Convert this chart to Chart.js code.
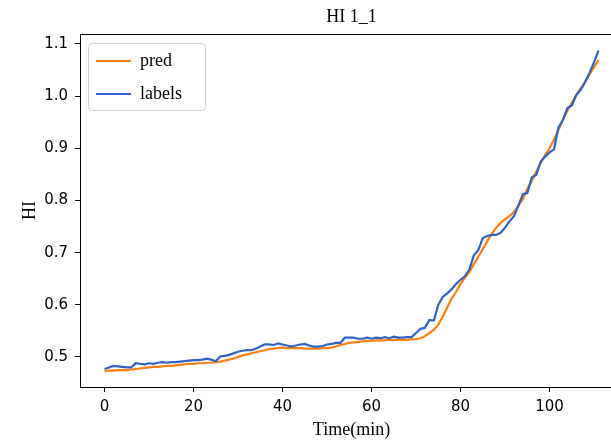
<!DOCTYPE html>
<html>
<head>
<meta charset="utf-8">
<script src="https://cdn.jsdelivr.net/npm/chart.js@4"></script>
<style>
  html, body { margin: 0; padding: 0; background: #fff; overflow: hidden; }
  #wrap { width: 611px; height: 441px; overflow: hidden; }
</style>
</head>
<body>
<div id="wrap"><canvas id="hiChart" width="625" height="441"></canvas></div>
<script>
// series, one value per minute (0..111)
const predValues = [
    0.473, 0.474, 0.474, 0.475, 0.475, 0.475, 0.476, 0.477, 0.478, 0.479,
    0.480, 0.481, 0.481, 0.482, 0.483, 0.483, 0.484, 0.485, 0.486, 0.487,
    0.487, 0.488, 0.488, 0.489, 0.489, 0.490, 0.491, 0.493, 0.495, 0.497,
    0.500, 0.503, 0.505, 0.507, 0.509, 0.511, 0.513, 0.515, 0.516, 0.517,
    0.518, 0.517, 0.517, 0.517, 0.517, 0.516, 0.516, 0.516, 0.516, 0.517,
    0.517, 0.518, 0.520, 0.523, 0.525, 0.527, 0.528, 0.529, 0.530, 0.531,
    0.531, 0.532, 0.532, 0.532, 0.533, 0.533, 0.533, 0.533, 0.533, 0.534,
    0.534, 0.536, 0.540, 0.546, 0.552, 0.562, 0.577, 0.595, 0.612, 0.625,
    0.640, 0.652, 0.663, 0.678, 0.692, 0.707, 0.722, 0.736, 0.748, 0.757,
    0.764, 0.770, 0.778, 0.790, 0.803, 0.822, 0.838, 0.855, 0.872, 0.887,
    0.900, 0.917, 0.935, 0.955, 0.972, 0.987, 1.002, 1.015, 1.028, 1.042,
    1.056, 1.069
];

const labelValues = [
    0.477, 0.480, 0.483, 0.482, 0.481, 0.480, 0.480, 0.488, 0.487, 0.486,
    0.488, 0.487, 0.489, 0.490, 0.489, 0.490, 0.490, 0.491, 0.492, 0.493,
    0.494, 0.494, 0.495, 0.497, 0.495, 0.492, 0.501, 0.502, 0.504, 0.507,
    0.510, 0.512, 0.513, 0.513, 0.516, 0.520, 0.524, 0.524, 0.523, 0.526,
    0.524, 0.522, 0.520, 0.522, 0.524, 0.525, 0.522, 0.520, 0.520, 0.521,
    0.524, 0.525, 0.527, 0.527, 0.537, 0.537, 0.537, 0.535, 0.535, 0.537,
    0.535, 0.537, 0.536, 0.538, 0.536, 0.539, 0.537, 0.537, 0.538, 0.538,
    0.546, 0.554, 0.556, 0.571, 0.570, 0.600, 0.615, 0.622, 0.630, 0.640,
    0.648, 0.655, 0.668, 0.695, 0.705, 0.728, 0.732, 0.734, 0.734, 0.738,
    0.748, 0.760, 0.770, 0.790, 0.812, 0.814, 0.844, 0.849, 0.874, 0.884,
    0.892, 0.898, 0.940, 0.954, 0.977, 0.982, 1.002, 1.012, 1.027, 1.045,
    1.065, 1.087
];

const seriesNames = ['pred', 'labels'];
const xTicks = [0, 20, 40, 60, 80, 100];
const yTicks = [0.5, 0.6, 0.7, 0.8, 0.9, 1.0, 1.1];

const serif = '"Liberation Serif", "Times New Roman", serif';
const sans = '"DejaVu Sans", sans-serif';

const toPoints = vals => vals.map((v, i) => ({ x: i, y: v }));

// frame (top/right spines) + title + legend box inside the plot
const extras = {
    id: 'extras',
    afterDraw(chart) {
        const { ctx, chartArea: a } = chart;
        ctx.save();
        ctx.strokeStyle = '#000';
        ctx.lineWidth = 1;
        ctx.strokeRect(a.left + 0.5, a.top + 0.5, a.right - a.left, a.bottom - a.top);

        ctx.fillStyle = '#000';
        ctx.font = '18px ' + serif;
        ctx.textAlign = 'center';
        ctx.textBaseline = 'middle';
        ctx.fillText('HI 1_1', (a.left + a.right) / 2, 17);

        // legend
        const bx = 88, by = 43, bw = 117, bh = 67;
        ctx.beginPath();
        ctx.roundRect(bx + 0.5, by + 0.5, bw, bh, 4);
        ctx.fillStyle = 'rgba(255,255,255,0.85)';
        ctx.fill();
        ctx.strokeStyle = '#d0d0d0';
        ctx.stroke();

        ctx.font = '18px ' + serif;
        ctx.textAlign = 'left';
        chart.data.datasets.slice().sort((p, q) => seriesNames.indexOf(p.label) - seriesNames.indexOf(q.label))
            .forEach((ds, i) => {
                const y = 61 + i * 33;
                ctx.strokeStyle = ds.borderColor;
                ctx.lineWidth = 2;
                ctx.beginPath();
                ctx.moveTo(96, y);
                ctx.lineTo(131, y);
                ctx.stroke();
                ctx.fillStyle = '#000';
                ctx.fillText(ds.label, 140, y);
            });
        ctx.restore();
    }
};

new Chart(document.getElementById('hiChart'), {
    type: 'line',
    data: {
        datasets: [{
            label: seriesNames[1],
            data: toPoints(labelValues),
            borderColor: '#2f62c2',
            borderWidth: 2.2,
            pointRadius: 0,
            tension: 0,
            fill: false
        }, {
            label: seriesNames[0],
            data: toPoints(predValues),
            borderColor: '#ff7f0e',
            borderWidth: 2.2,
            pointRadius: 0,
            tension: 0,
            fill: false
        }]
    },
    options: {
        responsive: false,
        animation: false,
        layout: { padding: { top: 34, right: 2, left: 0, bottom: 0 } },
        scales: {
            x: {
                type: 'linear',
                min: -5.5,
                max: 116.5,
                afterFit: s => { s.height = 54; },
                afterBuildTicks: s => { s.ticks = xTicks.map(v => ({ value: v })); },
                ticks: { color: '#000', font: { family: sans, size: 15 }, padding: 6, maxRotation: 0 },
                grid: { drawOnChartArea: false, drawTicks: true, tickLength: 5, color: '#000' },
                border: { display: true, color: '#000', width: 1 },
                title: { display: true, text: 'Time(min)', color: '#000', font: { family: serif, size: 18 }, padding: { top: 0, bottom: 0 } }
            },
            y: {
                min: 0.4425,
                max: 1.119,
                afterFit: s => { s.width = 80; },
                afterBuildTicks: s => { s.ticks = yTicks.map(v => ({ value: v })); },
                ticks: { color: '#000', font: { family: sans, size: 15 }, padding: 7, callback: v => v.toFixed(1) },
                grid: { drawOnChartArea: false, drawTicks: true, tickLength: 5, color: '#000' },
                border: { display: true, color: '#000', width: 1 },
                title: { display: true, text: 'HI', color: '#000', font: { family: serif, size: 18 }, padding: { top: 19, bottom: 0 } }
            }
        },
        plugins: {
            legend: { display: false },
            tooltip: { enabled: false }
        }
    },
    plugins: [extras]
});
</script>
</body>
</html>
